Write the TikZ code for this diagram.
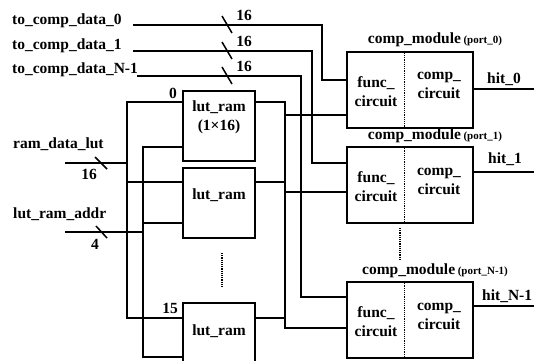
\documentclass[tikz,border=0pt]{standalone}
\usepackage{fontspec}
\setmainfont{Liberation Serif}
\usetikzlibrary{calc}
\newcommand{\portsize}{\bfseries\fontsize{11}{13}\selectfont}
\tikzset{
  wire/.style={line width=2pt},
  blk/.style={rectangle, draw, line width=2pt, inner sep=0pt},
  lutbox/.style={blk, minimum width=72pt, minimum height=70pt},
  modbox/.style={blk, minimum width=126pt, minimum height=76pt},
  txt/.style={font=\bfseries\fontsize{15.5}{19}\selectfont, inner sep=0pt, align=center},
  tick/.style={line width=1.5pt},
  dots/.style={densely dotted, line width=1.2pt},
}

\begin{document}
\begin{tikzpicture}[x=1pt, y=-1pt]
  \useasboundingbox (0,0) rectangle (534,360);

  % lut_ram blocks
  \node[lutbox] (lut0) at (219,126) {};
  \node[lutbox] (lut1) at (219,202.5) {};
  \node[lutbox] (lut15) at (219,338) {};
  \node[txt] (lt0) at (219,117) {lut\_ram\\(1×16)};
  \node[txt] (lt1) at (219,195) {lut\_ram};
  \node[txt] (lt15) at (219,331) {lut\_ram};
  \node[txt] (n0) at (173,93) {0};
  \node[txt] (n15) at (170,308) {15};
  \draw[dots] (222,253) -- (222,287);

  % comparator modules
  \node[modbox] (mod0) at (410,89.5) {};
  \node[modbox] (mod1) at (410,185) {};
  \node[modbox] (modN) at (410,320) {};
  \foreach \m/\p in {0/0,1/1,N/N-1} {
    \draw[dots] ($(mod\m.north west)!0.46!(mod\m.north east)$) -- ($(mod\m.south west)!0.46!(mod\m.south east)$);
    \node[txt] (func\m) at ($(mod\m.center)+(-34,2)$) {func\_\\circuit};
    \node[txt] (comp\m) at ($(mod\m.center)+(29,-4)$) {comp\_\\circuit};
    \node[txt, anchor=base] (mt\m) at ($(mod\m.north)+(25,-7)$) {comp\_module\,{\portsize(port\_\p)}};
  }
  \draw[dots] (400,228) -- (400,260);

  % outputs
  \coordinate (o0) at (540,89);
  \coordinate (o1) at (540,172);
  \coordinate (oN) at (540,306);
  \draw[wire] (o0 -| mod0.east) -- (o0);
  \draw[wire] (o1 -| mod1.east) -- (o1);
  \draw[wire] (oN -| modN.east) -- (oN);
  \node[txt, anchor=base west] (h0) at (487,83) {hit\_0};
  \node[txt, anchor=base west] (h1) at (488,163) {hit\_1};
  \node[txt, anchor=base west] (hN) at (482,300) {hit\_N-1};

  % compare data inputs
  \node[txt, anchor=base west] (in0) at (12,24) {to\_comp\_data\_0};
  \node[txt, anchor=base west] (in1) at (12,49) {to\_comp\_data\_1};
  \node[txt, anchor=base west] (inN) at (12,73) {to\_comp\_data\_N-1};
  \coordinate (s0) at (133,25);
  \coordinate (s1) at (133,51);
  \coordinate (sN) at (137,76);
  \coordinate (c0) at (322,80);
  \coordinate (c1) at (312,163);
  \coordinate (cN) at (301,297);
  \draw[wire] (s0) -| (c0) -- (c0 -| mod0.west);
  \draw[wire] (s1) -| (c1) -- (c1 -| mod1.west);
  \draw[wire] (sN) -| (cN) -- (cN -| modN.west);
  \foreach \y/\r in {25/0,51/1,76/N} {
    \draw[tick] (222,{\y-9}) -- (232,{\y+8});
    \node[txt] (w\r) at (244,{\y-10}) {16};
  }

  % lut data and address
  \node[txt, anchor=base west] (rdl) at (13,148) {ram\_data\_lut};
  \node[txt, anchor=base west] (lra) at (13,218) {lut\_ram\_addr};
  \coordinate (rd) at (65,163);
  \coordinate (ra) at (65,232);
  \coordinate (dtop) at (127,102);
  \coordinate (d1) at (127,182);
  \coordinate (dbot) at (127,318);
  \coordinate (atop) at (143,147);
  \coordinate (a1) at (143,223);
  \coordinate (abot) at (143,357);
  \draw[wire] (rd) -- (rd -| dtop);
  \draw[wire] (dtop -| lut0.west) -- (dtop) -- (dbot) -- (dbot -| lut15.west);
  \draw[wire] (d1) -- (d1 -| lut1.west);
  \draw[wire] (ra) -- (ra -| atop);
  \draw[wire] (atop -| lut0.west) -- (atop) -- (abot) -- (abot -| lut15.west);
  \draw[wire] (a1) -- (a1 -| lut1.west);
  \draw[tick] (95,157) -- (107,169);
  \node[txt] (wd) at (89,174) {16};
  \draw[tick] (96,226) -- (107,238);
  \node[txt] (wa) at (95,244) {4};

  % lut outputs to modules
  \coordinate (q0) at (285,102);
  \coordinate (q1) at (285,182);
  \coordinate (q15) at (285,318);
  \coordinate (p0) at (285,115);
  \coordinate (p1) at (285,192);
  \coordinate (pN) at (285,328);
  \draw[wire] (q0 -| lut0.east) -- (q0) -- (pN) -- (pN -| modN.west);
  \draw[wire] (q1 -| lut1.east) -- (q1);
  \draw[wire] (q15 -| lut15.east) -- (q15);
  \draw[wire] (p0) -- (p0 -| mod0.west);
  \draw[wire] (p1) -- (p1 -| mod1.west);
\end{tikzpicture}
\end{document}
